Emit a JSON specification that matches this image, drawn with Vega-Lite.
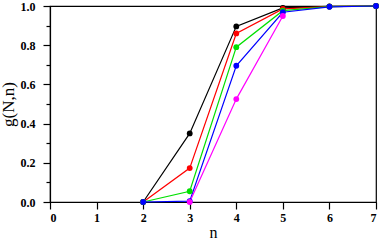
{
  "$schema": "https://vega.github.io/schema/vega-lite/v6.json",
  "autosize": "none",
  "width": 326,
  "height": 196,
  "padding": {"left": 50, "top": 6, "right": 6, "bottom": 38},
  "background": "white",
  "config": {
    "font": "Liberation Serif",
    "view": {"stroke": "black", "strokeWidth": 1.2},
    "axis": {"grid": false, "domainColor": "black", "tickColor": "black", "domainWidth": 1.2, "tickWidth": 1.2, "labelFont": "Liberation Serif", "titleFont": "Liberation Serif"}
  },
  "data": {"values": [
    {"s": "a", "n": 2, "g": 0.0}, {"s": "a", "n": 3, "g": 0.35}, {"s": "a", "n": 4, "g": 0.896}, {"s": "a", "n": 5, "g": 0.99}, {"s": "a", "n": 6, "g": 0.998}, {"s": "a", "n": 7, "g": 1.0},
    {"s": "b", "n": 2, "g": 0.0}, {"s": "b", "n": 3, "g": 0.173}, {"s": "b", "n": 4, "g": 0.86}, {"s": "b", "n": 5, "g": 0.985}, {"s": "b", "n": 6, "g": 0.997}, {"s": "b", "n": 7, "g": 1.0},
    {"s": "c", "n": 2, "g": 0.0}, {"s": "c", "n": 3, "g": 0.055}, {"s": "c", "n": 4, "g": 0.79}, {"s": "c", "n": 5, "g": 0.976}, {"s": "c", "n": 6, "g": 0.997}, {"s": "c", "n": 7, "g": 1.0},
    {"s": "d", "n": 2, "g": 0.0}, {"s": "d", "n": 3, "g": 0.004}, {"s": "d", "n": 4, "g": 0.695}, {"s": "d", "n": 5, "g": 0.968}, {"s": "d", "n": 6, "g": 0.996}, {"s": "d", "n": 7, "g": 1.0},
    {"s": "e", "n": 3, "g": 0.0}, {"s": "e", "n": 4, "g": 0.525}, {"s": "e", "n": 5, "g": 0.949}
  ]},
  "encoding": {
    "x": {"field": "n", "type": "quantitative", "scale": {"domain": [0, 7], "nice": false},
      "axis": {"title": "n", "values": [0,1,2,3,4,5,6,7], "format": "d", "labelFontWeight": "bold", "labelFontSize": 12, "labelColor": "black", "tickSize": 7, "labelPadding": 3, "titleFontWeight": "normal", "titleFontSize": 16, "titleColor": "black", "titlePadding": 1}},
    "y": {"field": "g", "type": "quantitative", "scale": {"domain": [0, 1], "nice": false},
      "axis": {"title": "g(N,n)", "values": [0,0.1,0.2,0.3,0.4,0.5,0.6,0.7,0.8,0.9,1.0], "labelExpr": "round(datum.value*10) % 2 == 0 ? format(datum.value, '.1f') : ''", "tickSize": {"condition": {"test": "round(datum.value*10) % 2 == 0", "value": 7}, "value": 4}, "labelFontWeight": "bold", "labelFontSize": 12, "labelColor": "black", "labelPadding": 8, "titleFontWeight": "normal", "titleFontSize": 17, "titleColor": "black", "titlePadding": 3}},
    "color": {"field": "s", "type": "nominal", "scale": {"domain": ["a","b","c","d","e"], "range": ["#000000","#ff0000","#00e000","#0000ff","#ff00ff"]}, "legend": null}
  },
  "layer": [
    {"mark": {"type": "line", "strokeWidth": 1.2}},
    {"mark": {"type": "point", "filled": true, "size": 34, "opacity": 1}}
  ]
}
